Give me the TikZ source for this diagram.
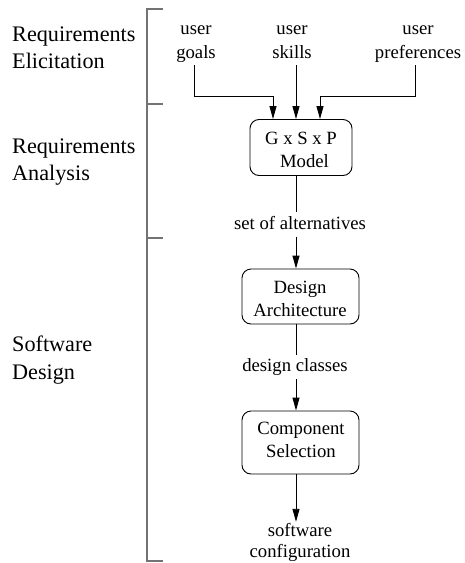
\documentclass[tikz,border=0pt]{standalone}
\usepackage{fontspec}
\setmainfont{Liberation Serif}
\usetikzlibrary{arrows.meta}
\begin{document}
\begin{tikzpicture}[x=1pt,y=-1pt,
  lbl/.style={font=\fontsize{22.2}{27.5}\selectfont, align=left, anchor=west, inner sep=0pt},
  txt/.style={font=\fontsize{18.7}{24}\selectfont, align=center, inner sep=0pt},
  btxt/.style={font=\fontsize{18.7}{23}\selectfont, align=center, inner sep=0pt},
  box/.style={draw, rounded corners=9pt, line width=0.9pt, inner sep=0pt},
  arr/.style={line width=0.9pt, -{Triangle[length=13pt,width=7pt]}},
  ln/.style={line width=0.9pt},
  brk/.style={draw=black!55, line width=1.3pt}]
\useasboundingbox (0,0) rectangle (464,563);
% bracket
\coordinate (b0) at (147,9);
\coordinate (b1) at (147,104);
\coordinate (b2) at (147,238);
\coordinate (b3) at (147,561);
\coordinate (t0) at (163,9);
\coordinate (t1) at (163,104);
\coordinate (t2) at (163,238);
\coordinate (t3) at (163,561);
\draw[brk] (t0) -- (b0) -- (b3) -- (t3);
\draw[brk] (b1) -- (t1);
\draw[brk] (b2) -- (t2);
% phase labels
\node[lbl] (elic) at (12,49.5) {\strut Requirements\\\strut Elicitation};
\node[lbl] (anal) at (12,161.5) {\strut Requirements\\\strut Analysis};
\node[lbl] (desg) at (12,360) {\strut Software\\\strut Design};
% inputs
\node[txt] (goals) at (196,41.2) {\strut user\\\strut goals};
\node[txt] (skills) at (292,41.2) {\strut user\\\strut skills};
\node[txt] (prefs) at (418,41.2) {\strut user\\\strut preferences};
% boxes
\node[box, minimum width=102pt, minimum height=56pt] (gsp) at (301,147.5) {};
\node[btxt] (gspt) at (301,151) {\strut G x S x P\\\strut\hspace*{7pt}Model};
\node[txt] (alts) at (300,224.5) {\strut set of alternatives};
\node[box, minimum width=117pt, minimum height=55pt] (da) at (300.5,296.5) {};
\node[btxt] (dat) at (300,300) {\strut Design\\\strut Architecture};
\node[txt] (dcls) at (295,367) {\strut design classes};
\node[box, minimum width=117pt, minimum height=63pt] (cs) at (300.5,442.5) {};
\node[btxt] (cst) at (301,441.2) {\strut Component\\\strut Selection};
\node[txt, font=\fontsize{18.7}{21}\selectfont] (conf) at (300,543) {\strut software\\\strut configuration};
% connectors
\coordinate (gx) at (194,0);
\coordinate (px) at (415,0);
\coordinate (ax) at (273,0);
\coordinate (sx) at (296,0);
\coordinate (cx) at (320,0);
\coordinate (jy) at (0,96);
\draw[arr] (goals.south -| gx) -- (jy -| gx) -- (jy -| ax) -- (gsp.north -| ax);
\draw[arr] (skills.south -| sx) -- (gsp.north -| sx);
\draw[arr] (prefs.south -| px) -- (jy -| px) -- (jy -| cx) -- (gsp.north -| cx);
\draw[ln] (gsp.south -| sx) -- (alts.north -| sx);
\draw[arr] (alts.south -| sx) -- (da.north -| sx);
\draw[ln] (da.south -| sx) -- (dcls.north -| sx);
\draw[arr] (dcls.south -| sx) -- (cs.north -| sx);
\draw[arr] (cs.south -| sx) -- (conf.north -| sx);
\end{tikzpicture}
\end{document}
